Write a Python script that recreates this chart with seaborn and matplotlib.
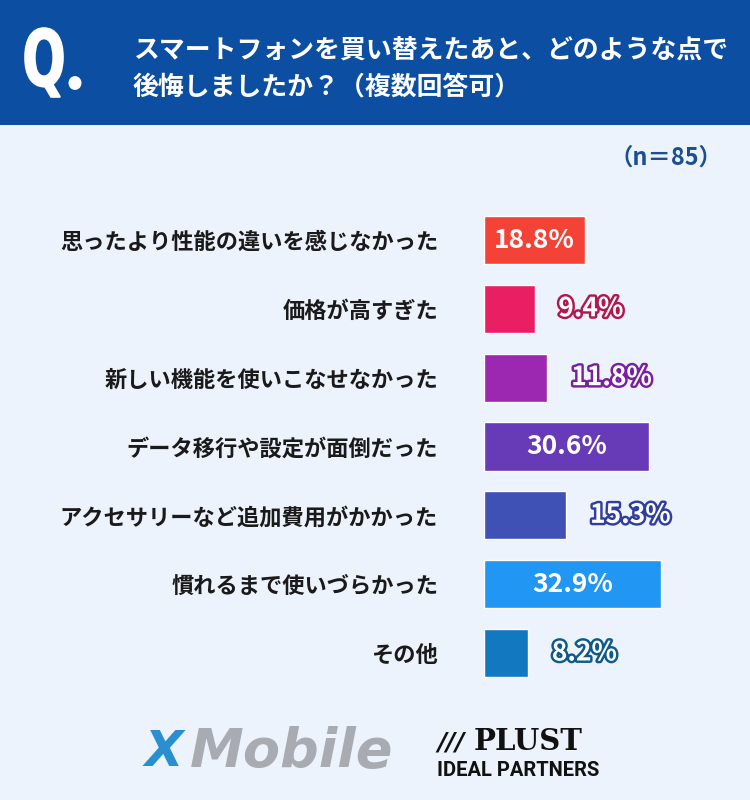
# スマートフォン買い替え後の後悔ポイント - 横棒グラフ
import pandas as pd
import matplotlib.pyplot as plt
import matplotlib.patheffects as pe
from matplotlib.patches import Rectangle, Circle, PathPatch
from matplotlib.textpath import TextPath
from matplotlib.font_manager import FontProperties
from matplotlib.transforms import Affine2D
import seaborn as sns

# Data
categories = [
    "思ったより性能の違いを感じなかった",
    "価格が高すぎた",
    "新しい機能を使いこなせなかった",
    "データ移行や設定が面倒だった",
    "アクセサリーなど追加費用がかかった",
    "慣れるまで使いづらかった",
    "その他",
]
values = [18.8, 9.4, 11.8, 30.6, 15.3, 32.9, 8.2]
bar_colors = ["#f44336", "#e91e63", "#9c27b0", "#673ab7", "#3f51b5", "#2196f3", "#1278c0"]
edge_colors = ["#c62828", "#b0184f", "#7b1fa2", "#4a2a90", "#303f9f", "#1565c0", "#0e5a8a"]
title_text = "スマートフォンを買い替えたあと、どのような点で\n後悔しましたか？（複数回答可）"
n_text = "（n＝85）"

df = pd.DataFrame({"category": categories, "value": values})

bg = "#edf3fc"
header = "#0b4ea2"
jp = ["Noto Sans CJK JP", "DejaVu Sans"]

sns.set_theme(style="white")
plt.rcParams["font.family"] = jp

W, H = 750, 800
fig = plt.figure(figsize=(7.5, 8), dpi=100, facecolor=bg)

# header band
fig.patches.append(Rectangle((0, 1 - 125 / H), 1, 125 / H, transform=fig.transFigure,
                             facecolor=header, edgecolor="none", zorder=0))

# narrow "Q" glyph squeezed into its box (pixels: x 25-63, y 28-97 from top)
qpath = TextPath((0, 0), "Q", size=1, prop=FontProperties(family="DejaVu Sans", weight="bold"))
ext = qpath.get_extents()
sx = (63 - 25) / ext.width
sy = (97 - 28) / ext.height
qtr = Affine2D().translate(-ext.x0, -ext.y0).scale(sx, sy).translate(25, H - 97)
fig.patches.append(PathPatch(qpath, transform=qtr, facecolor="white", edgecolor="white",
                             linewidth=1.2, zorder=2))
fig.patches.append(Circle((75 / W, 1 - 83 / H), 6.5 / W, transform=fig.transFigure,
                          facecolor="white", edgecolor="none", zorder=2))

fig.text(133 / W, 1 - 69 / H, title_text, color="white", fontsize=18.6, fontweight="bold",
         ha="left", va="center", linespacing=1.42, family=jp)
fig.text(722 / W, 1 - 158 / H, n_text, color="#1b4f8f", fontsize=16.8, fontweight="bold",
         ha="right", va="center", family=jp)

# bar axes: x from 484px to 750px, y centers 240px..653px
px_per_pct = 5.38
step = (653 - 240) / 6
top = 240 - step / 2
bottom = 653 + step / 2
ax = fig.add_axes([484 / W, 1 - bottom / H, 266 / W, (bottom - top) / H])
ax.set_facecolor("none")

sns.barplot(data=df, y="category", x="value", hue="category", palette=bar_colors,
            legend=False, orient="h", width=0.7, ax=ax, saturation=1)
ax.set_xlim(0, 266 / px_per_pct)
ax.set_ylim(6.5, -0.5)
ax.set_xlabel("")
ax.set_ylabel("")
ax.set_xticks([])
for s in ax.spines.values():
    s.set_visible(False)
ax.tick_params(axis="y", length=0, pad=33)
for lbl in ax.get_yticklabels():
    lbl.set_fontsize(16)
    lbl.set_fontweight("bold")
    lbl.set_color("#1a1a1a")
    lbl.set_family(jp)

for i, (v, ec) in enumerate(zip(values, edge_colors)):
    label = f"{v:.1f}%"
    if v > 17:
        ax.text(v / 2, i, label, color="white", fontsize=19, fontweight="bold",
                ha="center", va="center", family=jp)
    else:
        ax.text(v + 4.4, i, label, color="white", fontsize=19, fontweight="bold",
                ha="left", va="center", family=jp,
                path_effects=[pe.withStroke(linewidth=3.5, foreground=ec)])

# logos (as text)
fig.text(145 / W, 1 - 752 / H, "X", color="#2a8fd0", fontsize=36, fontweight="bold",
         style="italic", ha="left", va="center", family=["DejaVu Sans"])
fig.text(190 / W, 1 - 752 / H, "Mobile", color="#a8acb2", fontsize=39, fontweight="bold",
         style="italic", ha="left", va="center", family=["DejaVu Sans"])
fig.text(474 / W, 1 - 742 / H, "PLUST", color="#111111", fontsize=21, fontweight="bold",
         ha="left", va="center", family=["DejaVu Serif"])
fig.text(437 / W, 1 - 742 / H, "///", color="#111111", fontsize=18, fontweight="bold",
         style="italic", ha="left", va="center", family=["DejaVu Sans"])
fig.text(437 / W, 1 - 771 / H, "IDEAL PARTNERS", color="#111111", fontsize=14.5,
         fontweight="bold", ha="left", va="center", family=["Roboto", "DejaVu Sans"])

fig.savefig("out.png", dpi=100, facecolor=bg)
